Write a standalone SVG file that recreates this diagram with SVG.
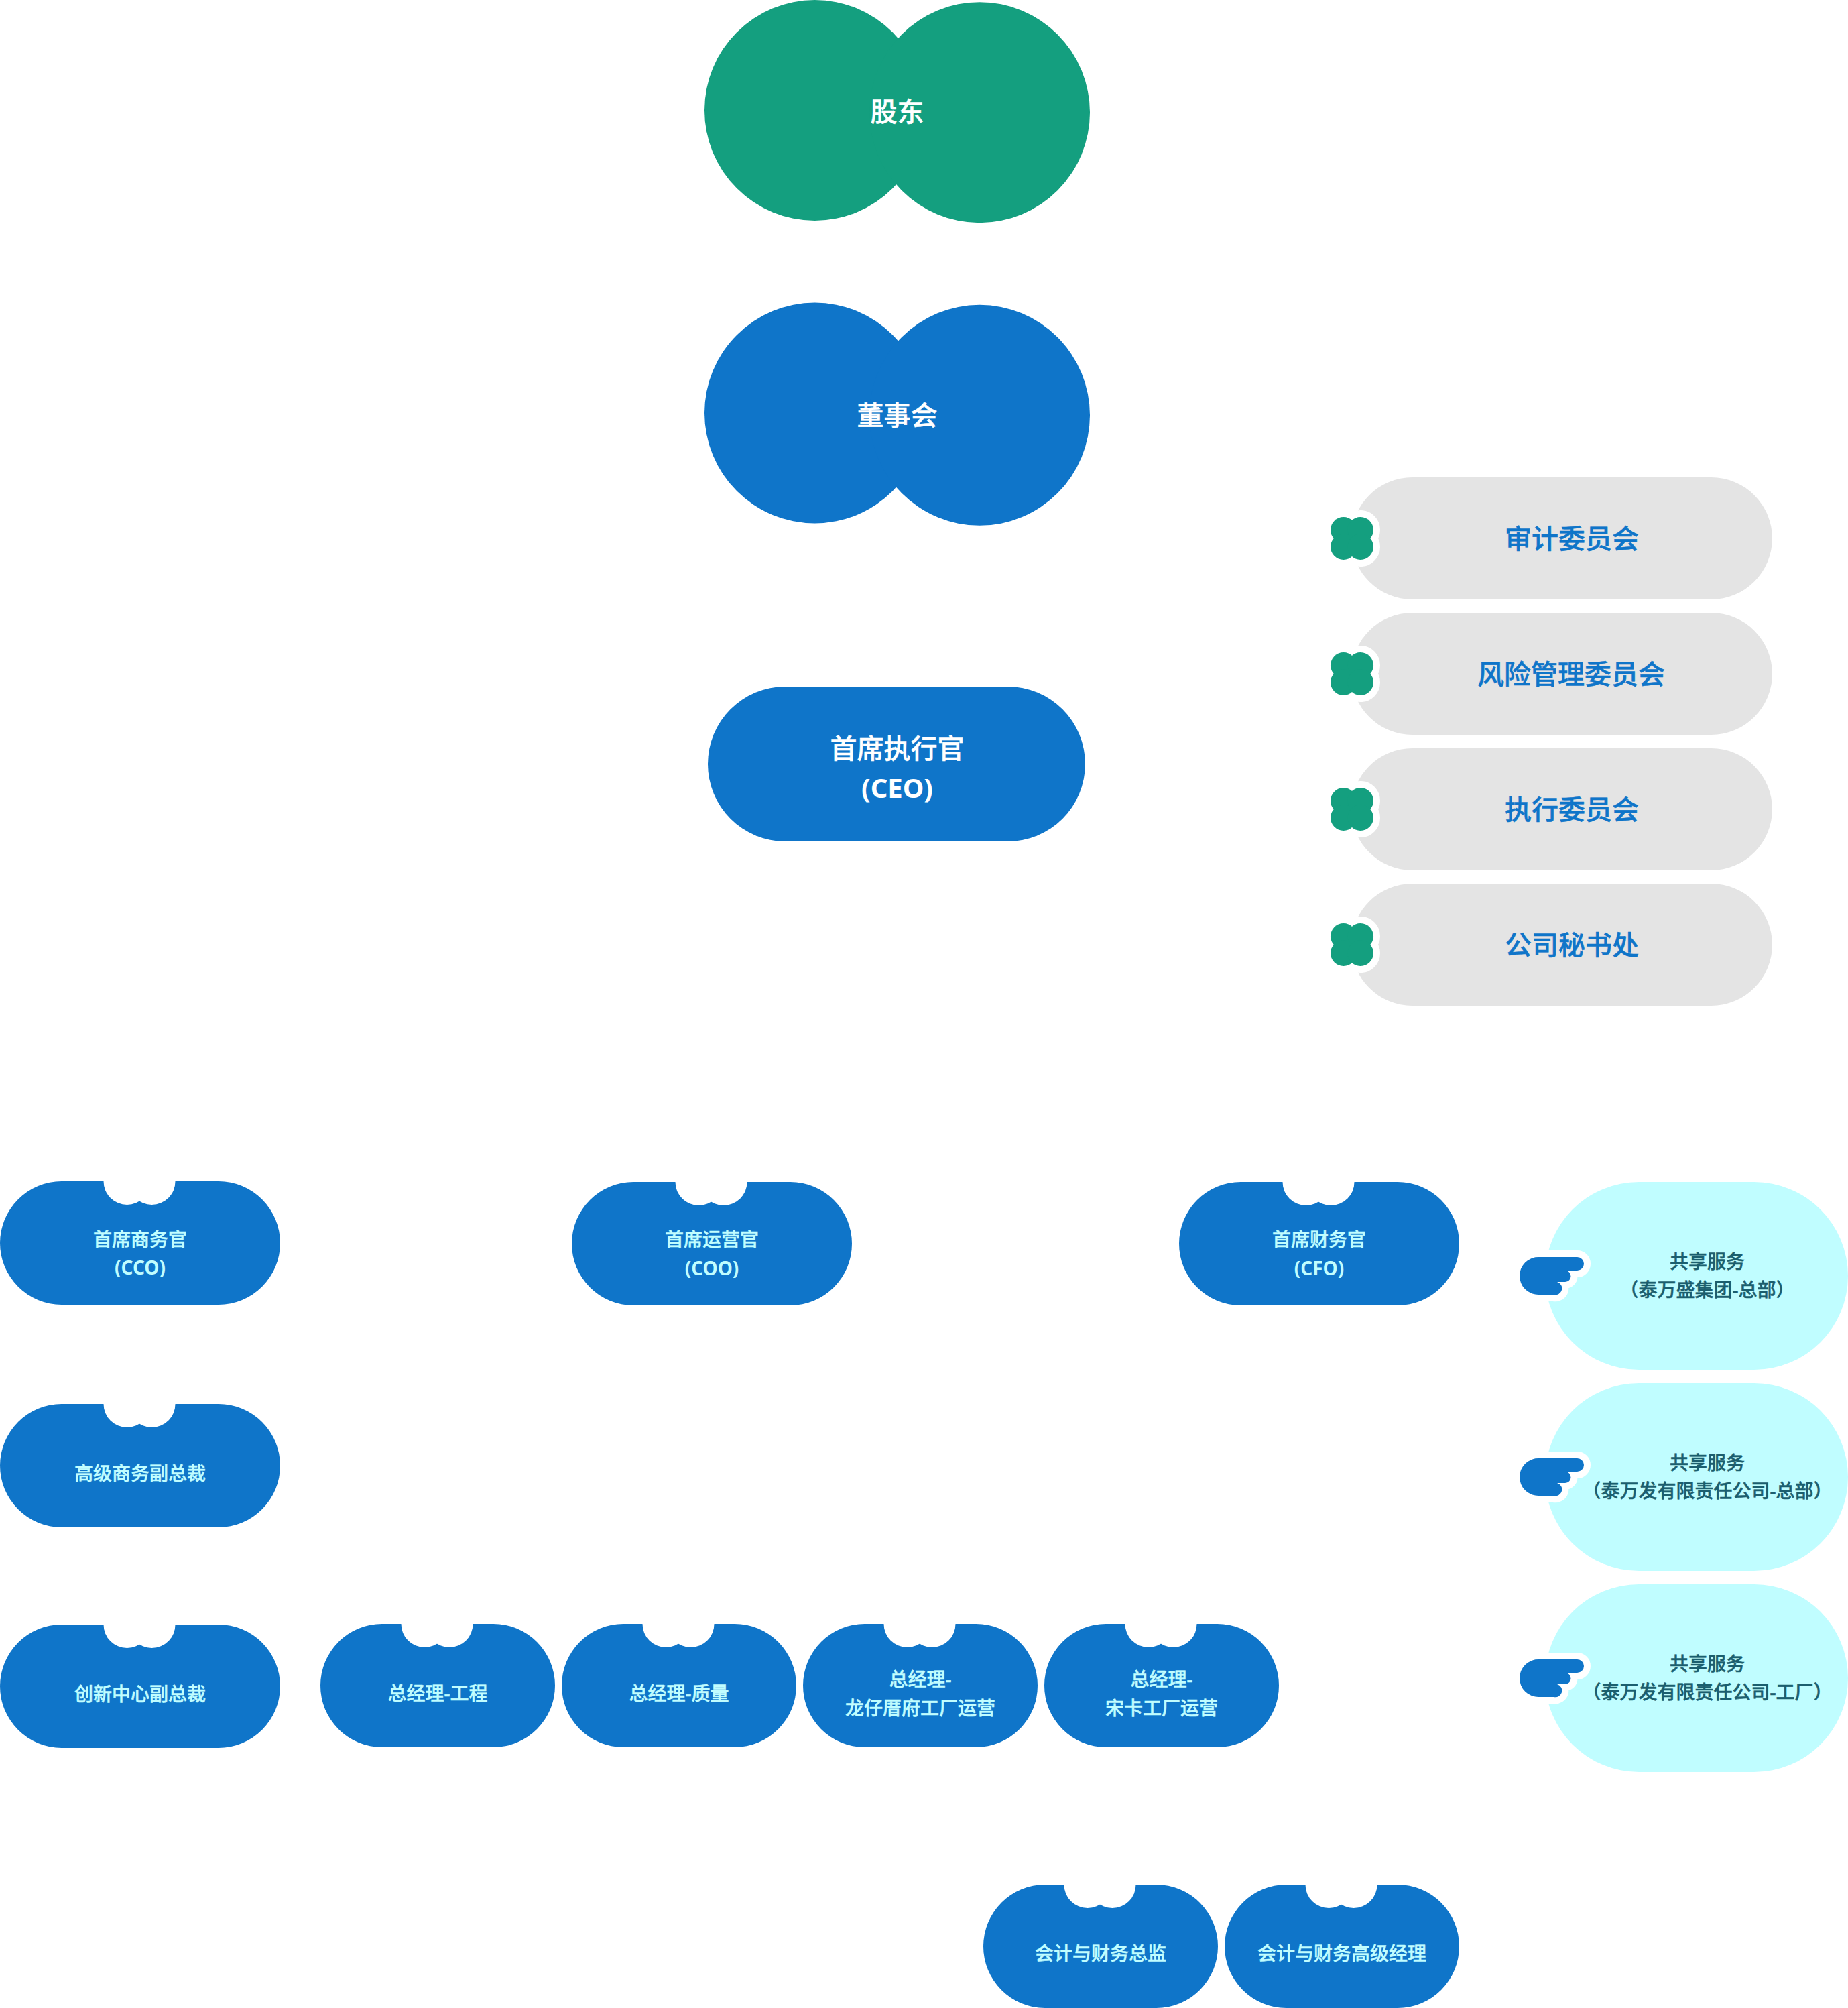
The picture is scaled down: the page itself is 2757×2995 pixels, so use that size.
<svg xmlns="http://www.w3.org/2000/svg" width="2757" height="2995" viewBox="0 0 2757 2995">
<style>
text{font-family:"Noto Sans","Noto Sans CJK SC",sans-serif;font-weight:500;text-anchor:middle;stroke-width:.5px}
.t40{font-size:40px}.t28{font-size:28px}
.w{fill:#fff;stroke:#fff}.c{fill:#C0FDFF;stroke:#C0FDFF}.b{fill:#0F75C9;stroke:#0F75C9}.d{fill:#1B5E6E;stroke:#1B5E6E}
text.lat{font-weight:700;stroke:none}
.bb{fill:#0F75C9}.gn{fill:#149F7F}.gy{fill:#E4E4E4}.cy{fill:#C0FDFF}.wh{fill:#fff}
.halo{fill:#fff;stroke:#fff;stroke-width:20;stroke-linejoin:round}
</style>
<defs>
<g id="notch" class="wh"><circle cx="-18.5" cy="0" r="35"/><circle cx="18.5" cy="0" r="35"/></g>
<g id="clover"><circle cx="-12.7" cy="-12.7" r="19.3"/><circle cx="12.7" cy="-12.7" r="19.3"/><circle cx="-12.7" cy="12.7" r="19.3"/><circle cx="12.7" cy="12.7" r="19.3"/></g>
<path id="wing" d="M28 0H86A10 10 0 0 1 86 20H68A8.500 8.500 0 0 1 68 37H56A9.500 9.500 0 0 1 51 56H28A28 28 0 0 1 28 0Z"/>
</defs>
<g id="connectors"/>
<g id="shareholders"><g class="gn"><circle cx="1215.500" cy="164.500" r="164.500"/><circle cx="1461.500" cy="167.700" r="164.500"/></g><text class="t40 w" x="1338.500" y="181">股东</text></g>
<g id="board"><g class="bb"><circle cx="1215.500" cy="616" r="164.500"/><circle cx="1461.500" cy="619.300" r="164.500"/></g><text class="t40 w" x="1338.500" y="634">董事会</text></g>
<g id="ceo"><rect class="bb" x="1056" y="1024" width="563" height="231" rx="115.500"/><text class="t40 w" x="1338.500" y="1131">首席执行官</text><text class="t40 w lat" x="1338.500" y="1190">(CEO)</text></g>

<g id="audit"><rect class="gy" x="2016" y="712" width="628" height="182" rx="91"/><use href="#clover" class="halo" x="2017" y="803"/><use href="#clover" class="gn" x="2017" y="803"/><text class="t40 b" x="2345" y="818">审计委员会</text></g>
<g id="risk"><rect class="gy" x="2016" y="914" width="628" height="182" rx="91"/><use href="#clover" class="halo" x="2017" y="1005"/><use href="#clover" class="gn" x="2017" y="1005"/><text class="t40 b" x="2344" y="1020">风险管理委员会</text></g>
<g id="exec"><rect class="gy" x="2016" y="1116" width="628" height="182" rx="91"/><use href="#clover" class="halo" x="2017" y="1207"/><use href="#clover" class="gn" x="2017" y="1207"/><text class="t40 b" x="2345" y="1222">执行委员会</text></g>
<g id="secretary"><rect class="gy" x="2016" y="1318" width="628" height="182" rx="91"/><use href="#clover" class="halo" x="2017" y="1409"/><use href="#clover" class="gn" x="2017" y="1409"/><text class="t40 b" x="2345" y="1424">公司秘书处</text></g>

<g id="cco"><rect class="bb" x="0" y="1762" width="418" height="184" rx="92"/><use href="#notch" x="208" y="1762"/><text class="t28 c" x="209" y="1859">首席商务官</text><text class="t28 c lat" x="209" y="1901">(CCO)</text></g>
<g id="coo"><rect class="bb" x="853" y="1763" width="418" height="184" rx="92"/><use href="#notch" x="1061" y="1763"/><text class="t28 c" x="1062" y="1859">首席运营官</text><text class="t28 c lat" x="1062" y="1902">(COO)</text></g>
<g id="cfo"><rect class="bb" x="1759" y="1763" width="418" height="184" rx="92"/><use href="#notch" x="1967" y="1763"/><text class="t28 c" x="1968" y="1859">首席财务官</text><text class="t28 c lat" x="1968" y="1902">(CFO)</text></g>
<g id="svp"><rect class="bb" x="0" y="2094" width="418" height="184" rx="92"/><use href="#notch" x="208" y="2094"/><text class="t28 c" x="209" y="2208">高级商务副总裁</text></g>
<g id="innovation"><rect class="bb" x="0" y="2423" width="418" height="184" rx="92"/><use href="#notch" x="208" y="2423"/><text class="t28 c" x="209" y="2537">创新中心副总裁</text></g>

<g id="gm-eng"><rect class="bb" x="478" y="2422" width="350" height="184" rx="92"/><use href="#notch" x="652" y="2422"/><text class="t28 c" x="653" y="2536">总经理-工程</text></g>
<g id="gm-quality"><rect class="bb" x="838" y="2422" width="350" height="184" rx="92"/><use href="#notch" x="1012" y="2422"/><text class="t28 c" x="1013" y="2536">总经理-质量</text></g>
<g id="gm-lkb"><rect class="bb" x="1198" y="2422" width="350" height="184" rx="92"/><use href="#notch" x="1372" y="2422"/><text class="t28 c" x="1373" y="2515">总经理-</text><text class="t28 c" x="1373" y="2558">龙仔厝府工厂运营</text></g>
<g id="gm-songkhla"><rect class="bb" x="1558" y="2422" width="350" height="184" rx="92"/><use href="#notch" x="1732" y="2422"/><text class="t28 c" x="1733" y="2515">总经理-</text><text class="t28 c" x="1733" y="2558">宋卡工厂运营</text></g>

<g id="acct-dir"><rect class="bb" x="1467" y="2811" width="350" height="184" rx="92"/><use href="#notch" x="1641" y="2811"/><text class="t28 c" x="1642" y="2924">会计与财务总监</text></g>
<g id="acct-mgr"><rect class="bb" x="1827" y="2811" width="350" height="184" rx="92"/><use href="#notch" x="2001" y="2811"/><text class="t28 c" x="2002" y="2924">会计与财务高级经理</text></g>

<g id="shared-1"><rect class="cy" x="2305" y="1763" width="452" height="280" rx="140"/><use href="#wing" class="halo" x="2267" y="1875"/><use href="#wing" class="bb" x="2267" y="1875"/><text class="t28 d" x="2547" y="1892">共享服务</text><text class="t28 d" x="2547" y="1934">（泰万盛集团-总部）</text></g>
<g id="shared-2"><rect class="cy" x="2305" y="2063" width="452" height="280" rx="140"/><use href="#wing" class="halo" x="2267" y="2175"/><use href="#wing" class="bb" x="2267" y="2175"/><text class="t28 d" x="2547" y="2192">共享服务</text><text class="t28 d" x="2547" y="2234">（泰万发有限责任公司-总部）</text></g>
<g id="shared-3"><rect class="cy" x="2305" y="2363" width="452" height="280" rx="140"/><use href="#wing" class="halo" x="2267" y="2475"/><use href="#wing" class="bb" x="2267" y="2475"/><text class="t28 d" x="2547" y="2492">共享服务</text><text class="t28 d" x="2547" y="2534">（泰万发有限责任公司-工厂）</text></g>
</svg>
